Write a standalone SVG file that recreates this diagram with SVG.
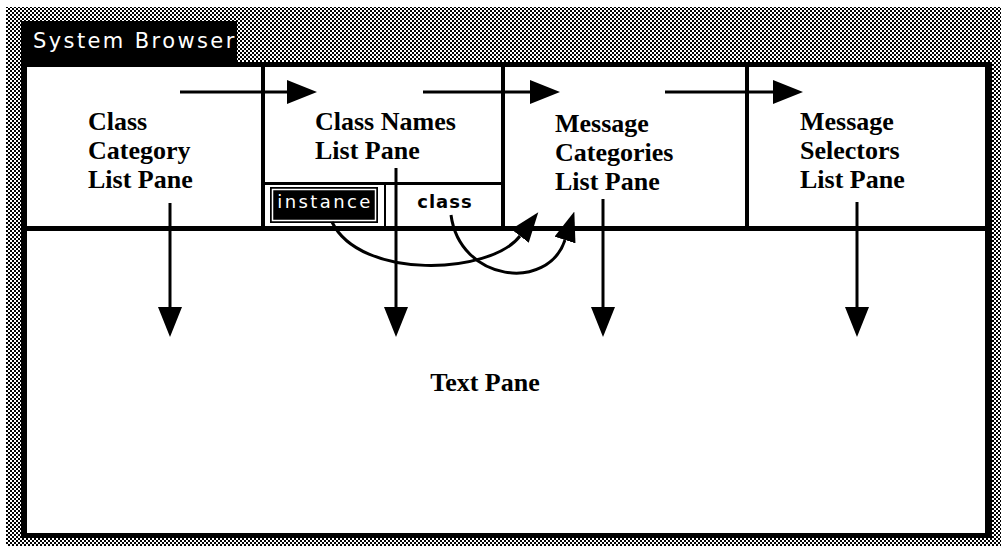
<svg xmlns="http://www.w3.org/2000/svg" width="1001" height="546" viewBox="0 0 1001 546">
<style>
.lbl{font-family:"Liberation Serif","Times New Roman",serif;font-weight:bold;font-size:26px;fill:#000}
.ui{font-family:"DejaVu Sans",sans-serif;font-size:18px}
.conn{fill:none;stroke:#000;stroke-width:3}
.div{fill:#000}
</style>
<defs>
<pattern id="dither" width="4" height="4" patternUnits="userSpaceOnUse">
<rect width="4" height="4" fill="#fff"/>
<rect x="0" y="0" width="2" height="2" fill="#000"/>
<rect x="2" y="2" width="2" height="2" fill="#000"/>
</pattern>
<marker id="ah" viewBox="0 0 30 24" refX="0" refY="12" markerWidth="30" markerHeight="24" markerUnits="userSpaceOnUse" orient="auto">
<path d="M0,0 L30,12 L0,24 z" fill="#000"/>
</marker>
<marker id="ahc" viewBox="0 0 30 22" refX="0" refY="11" markerWidth="30" markerHeight="22" markerUnits="userSpaceOnUse" orient="auto">
<path d="M0,0 L30,11 L0,22 z" fill="#000"/>
</marker>
</defs>
<rect width="1001" height="546" fill="#fff"/>
<g id="window">
<rect x="6" y="7" width="995" height="539" fill="url(#dither)"/>
<rect x="21" y="21" width="216" height="46" fill="#000"/>
<rect x="21" y="62" width="971" height="476" fill="#000"/>
<rect x="27" y="67" width="958" height="466" fill="#fff"/>
<text x="33" y="48" class="ui" style="font-size:21px;letter-spacing:2.4px" fill="#fff">System Browser</text>
</g>
<g id="dividers">
<rect class="div" x="27" y="226" width="958" height="5"/>
<rect class="div" x="261" y="67" width="4" height="161"/>
<rect class="div" x="501" y="67" width="4" height="161"/>
<rect class="div" x="745" y="67" width="4" height="161"/>
<rect class="div" x="263" y="182" width="240" height="3"/>
<rect class="div" x="384" y="183" width="2" height="45"/>
</g>
<g id="class-category-pane">
<text class="lbl" x="88" y="130">Class</text>
<text class="lbl" x="88" y="159">Category</text>
<text class="lbl" x="88" y="188">List Pane</text>
</g>
<g id="class-names-pane">
<text class="lbl" x="315" y="130">Class Names</text>
<text class="lbl" x="315" y="159">List Pane</text>
</g>
<g id="instance-button">
<rect x="270" y="187" width="108" height="36" fill="#000"/>
<rect x="272.5" y="189.5" width="103" height="31" fill="none" stroke="#fff" stroke-width="1.5"/>
<text class="ui" x="325" y="208" text-anchor="middle" fill="#fff" style="letter-spacing:2.4px">instance</text>
</g>
<g id="class-button">
<text class="ui" x="445" y="208" text-anchor="middle" fill="#000" style="font-weight:bold;letter-spacing:1px">class</text>
</g>
<g id="message-categories-pane">
<text class="lbl" x="555" y="132">Message</text>
<text class="lbl" x="555" y="161">Categories</text>
<text class="lbl" x="555" y="190">List Pane</text>
</g>
<g id="message-selectors-pane">
<text class="lbl" x="800" y="130">Message</text>
<text class="lbl" x="800" y="159">Selectors</text>
<text class="lbl" x="800" y="188">List Pane</text>
</g>
<g id="text-pane">
<text class="lbl" x="485" y="391" text-anchor="middle">Text Pane</text>
</g>
<g id="connectors">
<line class="conn" x1="180" y1="92" x2="287" y2="92" marker-end="url(#ah)"/>
<line class="conn" x1="423" y1="92" x2="530" y2="92" marker-end="url(#ah)"/>
<line class="conn" x1="665" y1="92" x2="773" y2="92" marker-end="url(#ah)"/>
<line class="conn" x1="170" y1="203" x2="170" y2="307" marker-end="url(#ah)"/>
<line class="conn" x1="396" y1="168" x2="396" y2="307" marker-end="url(#ah)"/>
<line class="conn" x1="603" y1="199" x2="603" y2="307" marker-end="url(#ah)"/>
<line class="conn" x1="857" y1="202" x2="857" y2="307" marker-end="url(#ah)"/>
<path class="conn" d="M332,222 C360,280 490,275 520,236" marker-end="url(#ahc)"/>
<path class="conn" d="M451,215 C460,282 548,292 565,240" marker-end="url(#ahc)"/>
</g>
</svg>
